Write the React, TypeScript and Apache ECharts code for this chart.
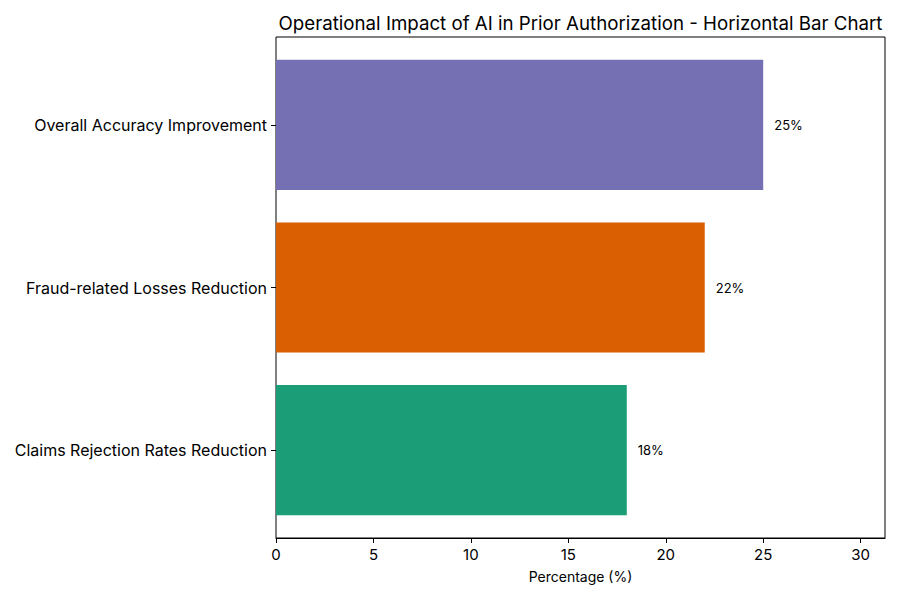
import React, { useEffect, useRef } from "react";
import * as echarts from "echarts";

const categories = [
  "Claims Rejection Rates Reduction",
  "Fraud-related Losses Reduction",
  "Overall Accuracy Improvement",
];
const values = [18, 22, 25];
const colors = ["#1b9e77", "#d95f02", "#7570b3"];
const xTicks = [0, 5, 10, 15, 20, 25, 30];

const FONT = "Inter, Roboto, sans-serif";
const X_MAX = 31.25;

export default function App() {
  const ref = useRef<HTMLDivElement>(null);
  useEffect(() => {
    if (!ref.current) return;
    const chart = echarts.init(ref.current, undefined, { renderer: "svg" });
    chart.setOption({
      animation: false,
      textStyle: { fontFamily: FONT },
      title: {
        text: "Operational Impact of AI in Prior Authorization - Horizontal Bar Chart",
        left: 575.5,
        textAlign: "center",
        top: 9,
        textStyle: { fontSize: 18.7, fontWeight: "normal", color: "#000", fontFamily: FONT },
      },
      grid: [
        {
          left: 276,
          right: 15,
          top: 37,
          bottom: 62,
          show: true,
          borderColor: "#000",
          borderWidth: 1,
          backgroundColor: "transparent",
        },
        {
          left: 276,
          right: 15,
          top: 43.5,
          bottom: 68.5,
          show: false,
        },
      ],
      xAxis: [
        {
          gridIndex: 0,
          type: "value",
          min: 0,
          max: X_MAX,
          interval: 5,
          name: "Percentage (%)",
          nameLocation: "middle",
          nameGap: 31,
          nameTextStyle: { fontSize: 14, color: "#000", fontFamily: FONT },
          axisLine: { show: true, lineStyle: { color: "#000", width: 1 } },
          axisTick: { show: true, length: 5, lineStyle: { color: "#000" }, customValues: xTicks },
          axisLabel: {
            fontSize: 15,
            color: "#000",
            margin: 9,
            fontFamily: FONT,
            customValues: xTicks,
            formatter: (v: number) => String(v),
          },
          splitLine: { show: false },
        },
        {
          gridIndex: 1,
          type: "value",
          min: 0,
          max: X_MAX,
          show: false,
          splitLine: { show: false },
        },
      ],
      yAxis: [
        {
          gridIndex: 0,
          type: "value",
          min: 0,
          max: 1,
          show: false,
          splitLine: { show: false },
        },
        {
          gridIndex: 1,
          type: "category",
          data: categories,
          axisLine: { show: false },
          axisTick: { show: true, alignWithLabel: true, length: 5, lineStyle: { color: "#000" } },
          axisLabel: { fontSize: 16, color: "#000", margin: 9, fontFamily: FONT },
          splitLine: { show: false },
        },
      ],
      series: [
        {
          type: "bar",
          xAxisIndex: 1,
          yAxisIndex: 1,
          data: values.map((v, i) => ({ value: v, itemStyle: { color: colors[i] } })),
          barCategoryGap: "20%",
          label: {
            show: true,
            position: "right",
            distance: 11,
            formatter: (p: any) => `${p.value}%`,
            fontSize: 13,
            color: "#000",
            fontFamily: FONT,
          },
        },
      ],
    });
    return () => chart.dispose();
  }, []);
  return <div ref={ref} style={{ width: 900, height: 600, position: "absolute", left: 0, top: 0 }} />;
}
